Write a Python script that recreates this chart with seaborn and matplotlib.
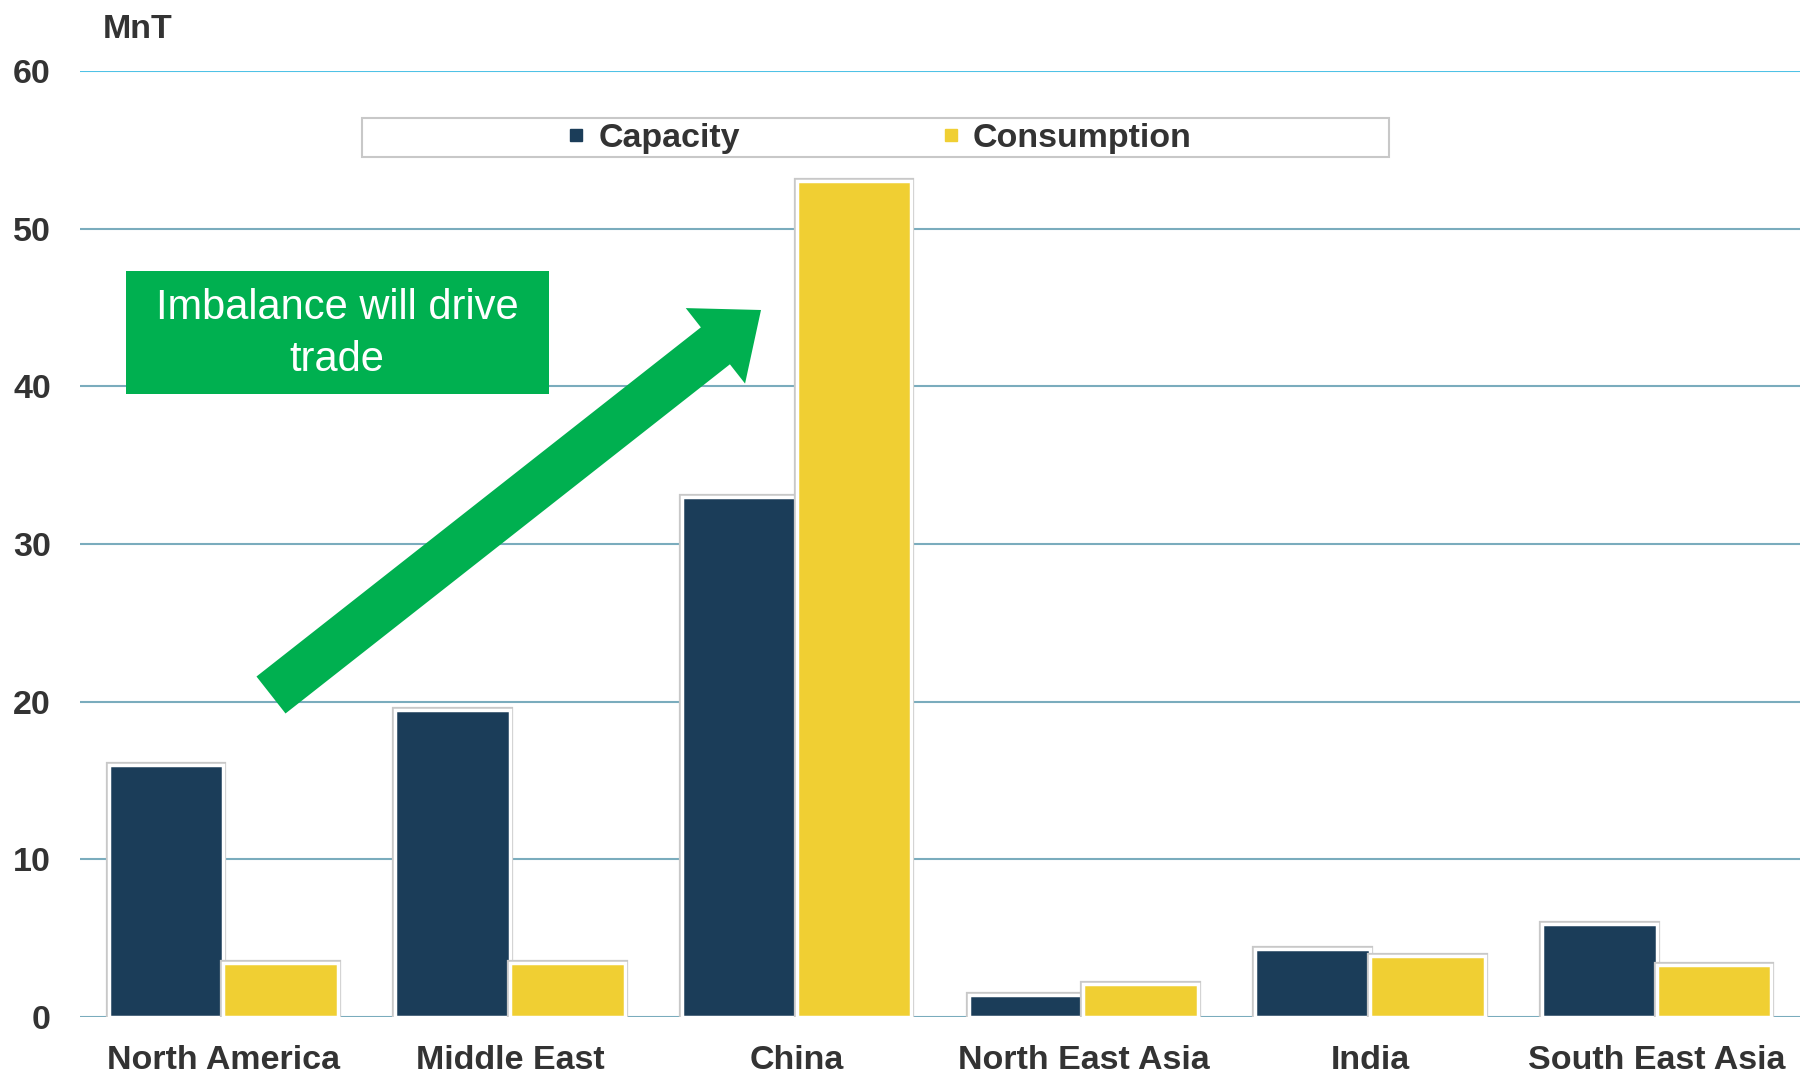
import matplotlib
matplotlib.use("Agg")
import matplotlib.pyplot as plt
import seaborn as sns
import pandas as pd
from matplotlib.patches import Rectangle, FancyArrow
from matplotlib.lines import Line2D
from matplotlib.transforms import IdentityTransform
import matplotlib.patheffects as pe

regions = ["North America", "Middle East", "China", "North East Asia", "India", "South East Asia"]
capacity = [16.0, 19.5, 33.0, 1.4, 4.3, 5.9]
consumption = [3.4, 3.4, 53.0, 2.1, 3.9, 3.3]
series_names = ["Capacity", "Consumption"]
yticks = [0, 10, 20, 30, 40, 50, 60]

df = pd.DataFrame({
    "region": regions * 2,
    "value": capacity + consumption,
    "series": [series_names[0]] * len(regions) + [series_names[1]] * len(regions),
})

sns.set_theme(style="white")
plt.rcParams["font.family"] = ["Liberation Sans", "DejaVu Sans"]

colors = {"Capacity": "#1b3d59", "Consumption": "#f0cf33"}
text_col = "#333333"

fig = plt.figure(figsize=(18, 10.75), dpi=100)
ax = fig.add_axes([80 / 1800, 1 - 1017 / 1075, 1 - 80 / 1800, (1017 - 71) / 1075])

sns.barplot(data=df, x="region", y="value", hue="series", palette=colors,
            saturation=1, width=0.8, ax=ax, legend=False,
            edgecolor="white", linewidth=2.5, zorder=3)
for p in ax.patches:
    p.set_path_effects([pe.Stroke(linewidth=4.5, foreground="#c8c8c8"), pe.Normal()])

ax.set_xlim(-0.5, 5.5)
ax.set_ylim(0, 60)
ax.set_yticks(yticks)
ax.set_xlabel("")
ax.set_ylabel("")
for s in ax.spines.values():
    s.set_visible(False)
ax.grid(axis="y", color="#7aacbd", linewidth=1.5, zorder=0)
ax.grid(axis="x", visible=False)
ax.get_ygridlines()[-1].set_color("#4fc2e6")
ax.set_axisbelow(True)
ax.tick_params(axis="both", length=0, labelsize=24.5, labelcolor=text_col)
ax.tick_params(axis="y", pad=21)
ax.tick_params(axis="x", pad=20.5)
for lab in ax.get_xticklabels() + ax.get_yticklabels():
    lab.set_fontweight("bold")

fig.text(103 / 1800, 1 - 30 / 1075, "MnT", fontsize=24.5, fontweight="bold",
         color=text_col, ha="left", va="center")

# legend box
fig.add_artist(Rectangle((362 / 1800, 1 - 157 / 1075), 1027 / 1800, 39 / 1075,
                         transform=fig.transFigure, facecolor="white",
                         edgecolor="#c8c8c8", linewidth=1.5, zorder=4))
handles = [Line2D([], [], marker="s", linestyle="none", markersize=9,
                  markerfacecolor=colors[n], markeredgecolor=colors[n]) for n in series_names]
leg = fig.legend(handles, series_names, loc="center",
                 bbox_to_anchor=(879 / 1800, 1 - 138 / 1075), ncol=2, frameon=False,
                 handlelength=0.6, handletextpad=0.35, columnspacing=5.9,
                 prop={"size": 24.5, "weight": "bold"})
for t in leg.get_texts():
    t.set_color(text_col)
leg.set_zorder(5)

# annotation box
fig.add_artist(Rectangle((126 / 1800, 1 - 394 / 1075), 423 / 1800, 123 / 1075,
                         transform=fig.transFigure, facecolor="#00b050",
                         edgecolor="none", zorder=4))
fig.text(337 / 1800, 1 - 334 / 1075, "Imbalance will drive\ntrade", fontsize=30,
         color="white", ha="center", va="center", linespacing=1.4, zorder=5)

# arrow (display pixels, origin bottom-left)
x0, y0 = 271, 1075 - 695
x1, y1 = 761, 1075 - 310
fig.add_artist(FancyArrow(x0, y0, x1 - x0, y1 - y0, width=47, head_width=96,
                          head_length=58, length_includes_head=True,
                          facecolor="#00b050", edgecolor="none",
                          transform=IdentityTransform(), zorder=4))

fig.savefig("out.png", dpi=100)
